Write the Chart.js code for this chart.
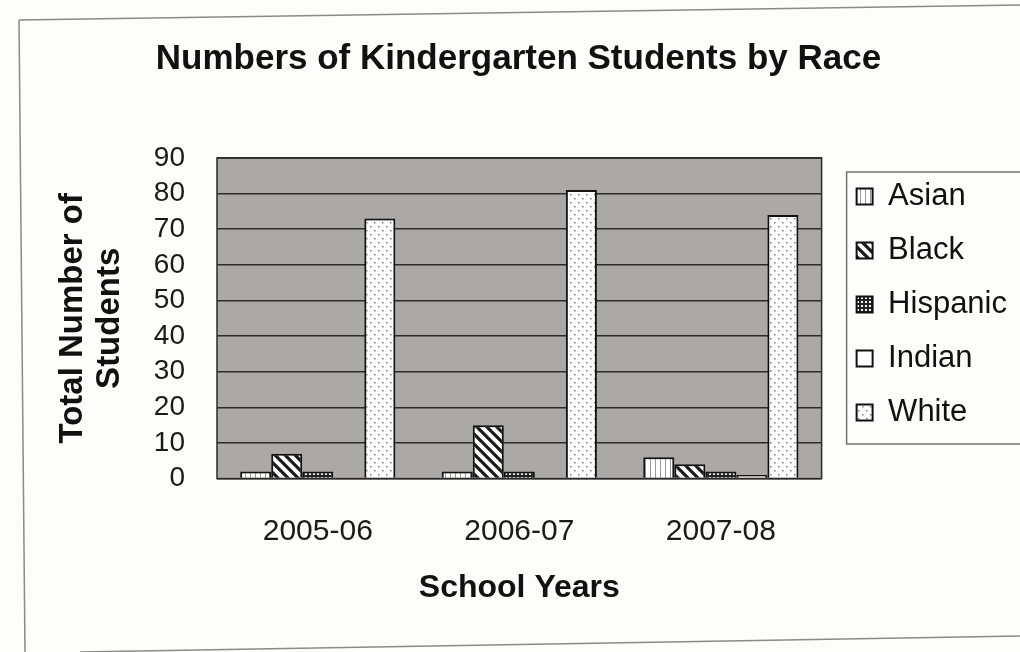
<!DOCTYPE html>
<html>
<head>
<meta charset="utf-8">
<script src="https://cdn.jsdelivr.net/npm/chart.js@4"></script>
<style>
	body { margin: 0; background: #fdfdfb; }
	#wrap { position: relative; width: 1020px; height: 652px; }
</style>
</head>
<body>
<div id="wrap"><canvas id="chart" width="1020" height="652"></canvas></div>
<script>
// data
let years = ['2005-06', '2006-07', '2007-08'];
let asian = [2, 2, 6];
let black = [7, 15, 4];
let hispanic = [2, 2, 2];
let indian = [0, 0, 1];
let white = [73, 81, 74];

// fill patterns like the old excel print
function makePattern(w, h, draw) {
	let c = document.createElement('canvas');
	c.width = w;
	c.height = h;
	let g = c.getContext('2d');
	g.fillStyle = '#ffffff';
	g.fillRect(0, 0, w, h);
	draw(g);
	return document.getElementById('chart').getContext('2d').createPattern(c, 'repeat');
}

let vertPattern = makePattern(5, 5, (g) => {
	g.fillStyle = '#9a9a9a';
	g.fillRect(0, 0, 1, 5);
});
let diagPattern = makePattern(10, 10, (g) => {
	g.strokeStyle = '#1a1a1a';
	g.lineWidth = 3.2;
	g.beginPath();
	g.moveTo(-5, -5); g.lineTo(15, 15);
	g.moveTo(-5, 5); g.lineTo(5, 15);
	g.moveTo(5, -5); g.lineTo(15, 5);
	g.stroke();
});
let gridPattern = makePattern(4, 4, (g) => {
	g.fillStyle = '#222222';
	g.fillRect(0, 0, 4, 4);
	g.fillStyle = '#f4f4f4';
	g.fillRect(1, 1, 2, 2);
});
let dotPattern = makePattern(8, 8, (g) => {
	g.fillStyle = '#808080';
	g.fillRect(2, 2, 1.5, 1.5);
	g.fillRect(6, 6, 1.5, 1.5);
});

// plot background, plot border, legend box and the scanned page frame
let decoPlugin = {
	id: 'deco',
	beforeDraw(chart) {
		let ctx = chart.ctx;
		let a = chart.chartArea;
		ctx.save();
		ctx.strokeStyle = '#8a8a8a';
		ctx.lineWidth = 1.5;
		ctx.beginPath();
		ctx.moveTo(19, 20); ctx.lineTo(1020, 5);
		ctx.moveTo(19, 20); ctx.lineTo(25, 652);
		ctx.moveTo(80, 652); ctx.lineTo(1020, 636);
		ctx.stroke();
		ctx.fillStyle = '#aaa9a6';
		ctx.fillRect(a.left, a.top, a.right - a.left, a.bottom - a.top);
		ctx.restore();
	},
	afterDatasetsDraw(chart) {
		let ctx = chart.ctx;
		let a = chart.chartArea;
		ctx.save();
		ctx.strokeStyle = '#2a2a2a';
		ctx.lineWidth = 1.5;
		ctx.strokeRect(a.left, a.top, a.right - a.left, a.bottom - a.top);
		let hb = chart.legend.legendHitBoxes;
		if (hb && hb.length) {
			let first = hb[0];
			let last = hb[hb.length - 1];
			ctx.strokeStyle = '#707070';
			ctx.lineWidth = 1.5;
			ctx.strokeRect(first.left - 10, first.top - 9, 200, last.top + last.height + 16 - (first.top - 9));
		}
		ctx.restore();
	}
};

let barStyle = {borderColor: '#111111', borderWidth: 2};

let ctx = document.getElementById('chart').getContext('2d');
let chart = new Chart(ctx, {
	type: 'bar',
	data: {
		labels: years,
		datasets: [
			Object.assign({label: 'Asian', data: asian, backgroundColor: vertPattern}, barStyle),
			Object.assign({label: 'Black', data: black, backgroundColor: diagPattern}, barStyle),
			Object.assign({label: 'Hispanic', data: hispanic, backgroundColor: gridPattern}, barStyle),
			Object.assign({label: 'Indian', data: indian, backgroundColor: '#ffffff'}, barStyle),
			Object.assign({label: 'White', data: white, backgroundColor: dotPattern}, barStyle)
		]
	},
	options: {
		responsive: false,
		animation: false,
		categoryPercentage: 0.77,
		barPercentage: 1,
		layout: {padding: {left: 20, right: 3, top: 0, bottom: 45}},
		plugins: {
			tooltip: {enabled: false},
			title: {
				display: true,
				text: 'Numbers of Kindergarten Students by Race',
				color: '#111111',
				font: {family: 'Liberation Sans, Arial', size: 35, weight: 'bold'},
				padding: {top: 38, bottom: 78}
			},
			legend: {
				position: 'right',
				align: 'start',
				fullSize: false,
				labels: {
					color: '#111111',
					font: {family: 'Liberation Sans, Arial', size: 31},
					boxWidth: 16,
					boxHeight: 16,
					padding: 23
				}
			}
		},
		scales: {
			x: {
				grid: {display: false, drawTicks: false},
				border: {display: false},
				ticks: {
					color: '#1a1a1a',
					font: {family: 'Liberation Sans, Arial', size: 30},
					padding: 35
				},
				title: {
					display: true,
					text: 'School Years',
					color: '#111111',
					font: {family: 'Liberation Sans, Arial', size: 32, weight: 'bold'},
					padding: {top: -16, bottom: 0}
				}
			},
			y: {
				min: 0,
				max: 90,
				grid: {color: '#2b2b2b', lineWidth: 1.5, drawTicks: false},
				border: {display: false},
				ticks: {
					stepSize: 10,
					autoSkip: false,
					color: '#1a1a1a',
					font: {family: 'Liberation Sans, Arial', size: 28},
					padding: 32
				},
				title: {
					display: true,
					text: ['Total Number of', 'Students'],
					color: '#111111',
					font: {family: 'Liberation Sans, Arial', size: 33, weight: 'bold', lineHeight: 1.1},
					padding: {top: 35, bottom: 0}
				},
				afterFit: (scale) => { scale.width = 197; }
			},
			pad: {
				type: 'linear',
				position: 'right',
				display: true,
				grid: {display: false},
				border: {display: false},
				ticks: {display: false},
				afterFit: (scale) => { scale.width = 12; }
			}
		}
	},
	plugins: [decoPlugin]
});

// let the legend be as wide as its longest label
let legendFit = chart.legend.fit;
chart.legend.fit = function() {
	this.maxWidth = Math.max(this.maxWidth, 220);
	legendFit.call(this);
};
chart.update();
</script>
</body>
</html>
